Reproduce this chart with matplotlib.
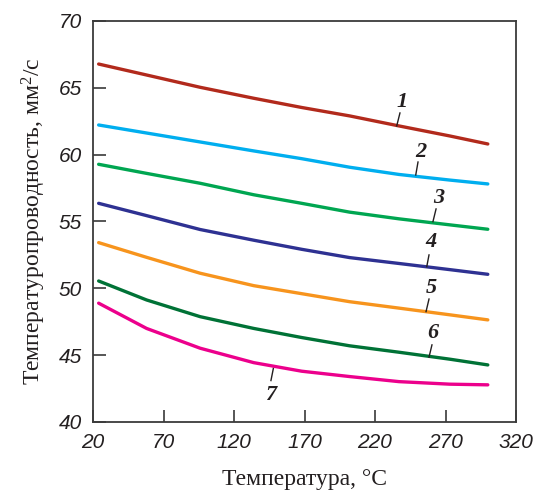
#!/usr/bin/env python

import matplotlib

matplotlib.use("Agg")
import matplotlib.pyplot as plt  # noqa: E402

plt.rcParams["mathtext.fontset"] = "custom"
plt.rcParams["mathtext.rm"] = "Liberation Serif"
plt.rcParams["mathtext.it"] = "Liberation Serif:italic"

# temperature points (deg C) and thermal diffusivity curves (mm^2/s)
temps = [24, 58, 96, 134, 168, 202, 237, 273, 300]
curve_1 = [66.78, 65.96, 65.04, 64.22, 63.53, 62.9, 62.15, 61.4, 60.8]
curve_2 = [62.22, 61.62, 60.95, 60.28, 59.7, 59.06, 58.52, 58.1, 57.81]
curve_3 = [59.28, 58.6, 57.86, 57.0, 56.36, 55.7, 55.2, 54.75, 54.42]
curve_4 = [56.36, 55.44, 54.4, 53.6, 52.92, 52.3, 51.86, 51.4, 51.05]
curve_5 = [53.42, 52.32, 51.13, 50.2, 49.6, 49.0, 48.52, 48.02, 47.64]
curve_6 = [50.55, 49.13, 47.88, 47.0, 46.32, 45.7, 45.22, 44.7, 44.27]
curve_7 = [48.89, 47.0, 45.52, 44.44, 43.8, 43.4, 43.02, 42.83, 42.78]

curves = [curve_1, curve_2, curve_3, curve_4, curve_5, curve_6, curve_7]
names = ["1", "2", "3", "4", "5", "6", "7"]
colors = ["#B22A1C", "#00AEEF", "#00A651", "#2E3192", "#F7941D", "#007236", "#EC008C"]

xticks = [20, 70, 120, 170, 220, 270, 320]
yticks = [40, 45, 50, 55, 60, 65, 70]

# label text position, leader line bottom, leader line top (data coords)
label_pos = [
    ((239.1, 63.94), (235.4, 62.15), (237.7, 63.12)),
    ((252.4, 60.22), (248.9, 58.48), (250.5, 59.45)),
    ((265.4, 56.74), (261.1, 54.99), (263.3, 55.94)),
    ((259.7, 53.45), (256.7, 51.62), (258.3, 52.5)),
    ((259.7, 50.0), (256.2, 48.26), (258.3, 49.2)),
    ((261.3, 46.64), (258.3, 44.85), (260.4, 45.77)),
    ((146.0, 42.03), (146.2, 43.1), (147.9, 44.0)),
]

fig = plt.figure(figsize=(5.35, 4.96), dpi=100)
ax = fig.add_axes([93 / 535, 1 - 422 / 496, 423 / 535, 401 / 496])

for ys, c in zip(curves, colors):
    ax.plot(temps, ys, color=c, lw=2.4, solid_capstyle="round",
            solid_joinstyle="round")

for name, (txt, lo, hi) in zip(names, label_pos):
    ax.plot([lo[0], hi[0]], [lo[1], hi[1]], color="#231F20", lw=1.0)
    ax.text(txt[0], txt[1], name, family="Liberation Serif", style="italic",
            weight="bold", fontsize=16, ha="center", va="center", color="#231F20")

ax.set_xlim(20, 320)
ax.set_ylim(40, 70)
ax.set_xticks(xticks)
ax.set_yticks(yticks)
ax.tick_params(direction="in", length=9, width=1.2, colors="#3a3a3a",
               labelcolor="#231F20", pad=8)
for lab in ax.get_xticklabels() + ax.get_yticklabels():
    lab.set_family("Liberation Sans")
    lab.set_style("italic")
    lab.set_fontsize(15)
for sp in ax.spines.values():
    sp.set_color("#3a3a3a")
    sp.set_linewidth(1.3)

ax.set_xlabel("Температура, °C", family="Liberation Serif", fontsize=17,
              color="#231F20", labelpad=12)
ax.set_ylabel("Температуропроводность, мм$^2$/с", family="Liberation Serif",
              fontsize=17, color="#231F20", labelpad=8)

fig.savefig("out.png", dpi=100)
